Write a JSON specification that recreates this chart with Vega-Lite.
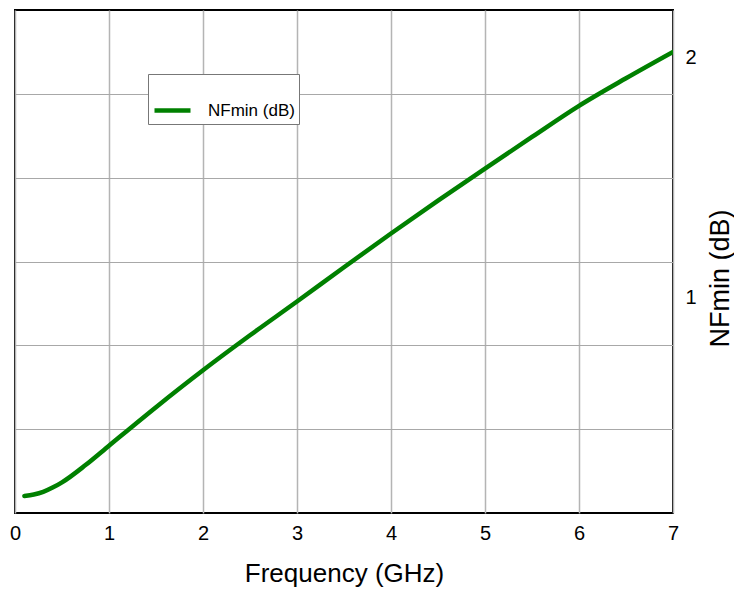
{
  "$schema": "https://vega.github.io/schema/vega-lite/v6.json",
  "autosize": "none",
  "padding": {"left": 15, "top": 10, "right": 61, "bottom": 79},
  "width": 658,
  "height": 503,
  "config": {
    "font": "Liberation Sans",
    "view": {"stroke": "#000000", "strokeWidth": 2},
    "background": "white"
  },
  "data": {
    "values": [
      {"f": 0.1, "nf": 0.171},
      {"f": 0.2, "nf": 0.177},
      {"f": 0.3, "nf": 0.188},
      {"f": 0.4, "nf": 0.206},
      {"f": 0.5, "nf": 0.228},
      {"f": 0.75, "nf": 0.3},
      {"f": 1.0, "nf": 0.381},
      {"f": 1.5, "nf": 0.542},
      {"f": 2.0, "nf": 0.696},
      {"f": 2.5, "nf": 0.842},
      {"f": 3.0, "nf": 0.983},
      {"f": 3.5, "nf": 1.126},
      {"f": 4.0, "nf": 1.267},
      {"f": 4.5, "nf": 1.404},
      {"f": 5.0, "nf": 1.538},
      {"f": 5.5, "nf": 1.67},
      {"f": 6.0, "nf": 1.8},
      {"f": 6.5, "nf": 1.915},
      {"f": 7.0, "nf": 2.025}
    ]
  },
  "mark": {"type": "line", "strokeWidth": 4.5, "strokeCap": "round", "interpolate": "monotone", "clip": true},
  "encoding": {
    "x": {
      "field": "f", "type": "quantitative",
      "scale": {"domain": [0, 7], "nice": false, "zero": false},
      "axis": {
        "title": "Frequency (GHz)", "values": [0, 1, 2, 3, 4, 5, 6, 7],
        "grid": true, "gridColor": "#b4b4b4", "gridWidth": 1.5, "gridOpacity": 1,
        "ticks": false, "domain": false,
        "labelFontSize": 20, "labelColor": "#000", "labelPadding": 10, "labelFlush": false,
        "titleFontSize": 26, "titleFontWeight": "normal", "titleColor": "#000", "titlePadding": 17
      }
    },
    "y": {
      "field": "nf", "type": "quantitative",
      "scale": {"domain": [0.1, 2.2], "nice": false, "zero": false},
      "axis": {
        "orient": "right",
        "title": "NFmin (dB)",
        "values": [0.45, 0.8, 1, 1.15, 1.5, 1.85, 2],
        "grid": true, "gridColor": "#a8a8a8", "gridWidth": 1,
        "gridOpacity": {"condition": {"test": "datum.value == 1 || datum.value == 2", "value": 0}, "value": 1},
        "labelExpr": "(datum.value == 1 || datum.value == 2) ? ('' + datum.value) : ''",
        "labelOverlap": false,
        "ticks": false, "domain": false,
        "labelFontSize": 20, "labelColor": "#000", "labelPadding": 12,
        "titleFontSize": 27, "titleFontWeight": "normal", "titleColor": "#000",
        "titleAngle": 270, "titleX": 47, "titleY": 268, "titleBaseline": "middle", "titleAlign": "center"
      }
    },
    "color": {
      "datum": "NFmin (dB)", "type": "nominal",
      "scale": {"range": ["#008000"]},
      "legend": {
        "orient": "none", "legendX": 133, "legendY": 64,
        "title": " ", "titleFontSize": 12, "titlePadding": 0,
        "fillColor": "white", "strokeColor": "#777", "padding": 4,
        "symbolType": "stroke", "symbolStrokeWidth": 4.5, "symbolSize": 1296,
        "labelFontSize": 17, "labelColor": "#000", "labelOffset": 15
      }
    }
  }
}
